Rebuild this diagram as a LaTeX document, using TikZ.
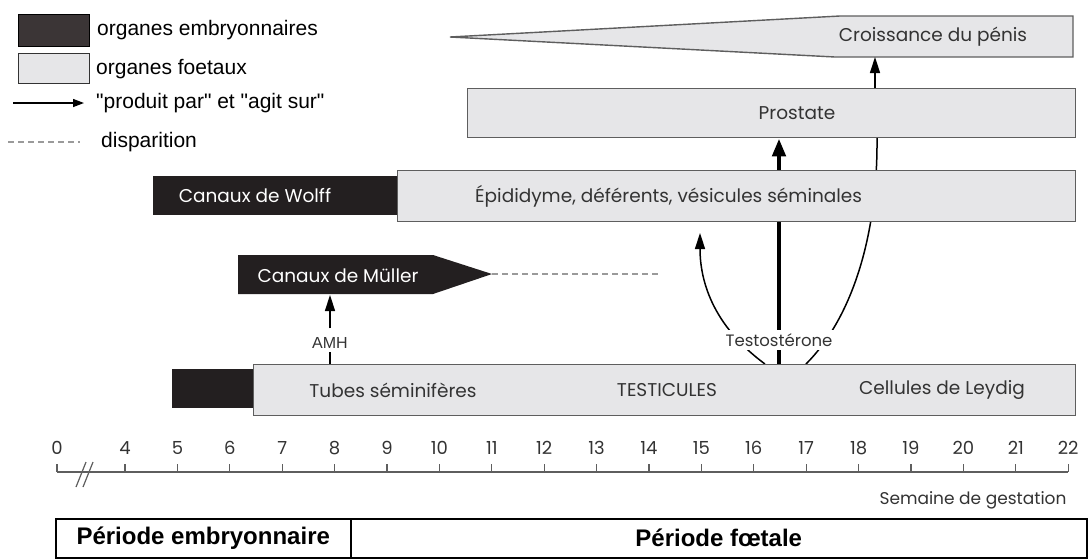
\documentclass[tikz,border=0pt]{standalone}
\usepackage{fontspec}
\setmainfont{Liberation Sans}
\newfontfamily\geo{Poppins}
\usetikzlibrary{arrows.meta,backgrounds}
\definecolor{embryo}{HTML}{231F20}
\definecolor{embryokey}{HTML}{3B3536}
\definecolor{fetal}{HTML}{E6E6E8}
\definecolor{boxline}{HTML}{5E5E5E}
\definecolor{ink}{HTML}{333333}
\definecolor{gone}{HTML}{9A9A9A}
\tikzset{
  fetalbox/.style={draw=boxline,fill=fetal,line width=1.4pt,inner sep=0pt,anchor=north west},
  embryobox/.style={fill=embryo,inner sep=0pt,anchor=north west},
  organ/.style={font=\geo\fontsize{18.5}{21}\selectfont,text=ink,inner sep=0pt},
  organw/.style={organ,text=white},
  hormone/.style={font=\geo\fontsize{16.5}{18}\selectfont,text=ink,fill=white,inner sep=3pt},
  acts/.style={-{Triangle[length=16pt,width=10pt]},line width=1.5pt},
  gonefill/.style={gone,line width=1.2pt,dash pattern=on 6pt off 4pt},
  week/.style={font=\geo\fontsize{18}{20}\selectfont,text=ink},
  keytext/.style={font=\fontsize{21}{24}\selectfont,anchor=west,inner sep=0pt},
  period/.style={font=\bfseries\fontsize{24}{26}\selectfont,draw,line width=1.5pt,anchor=north west,minimum height=39pt,inner sep=0pt}
}
\begin{document}
\begin{tikzpicture}[x=1pt,y=-1pt]
\useasboundingbox (0,0) rectangle (1090,558);
% legende
\node[embryobox,fill=embryokey,draw=black,minimum width=71,minimum height=32] (keyembryo) at (18,14) {};
\node[fetalbox,draw=black!80,minimum width=71,minimum height=30] (keyfetal) at (18,53) {};
\node[keytext] (keyembryotxt) at (97,30) {organes embryonnaires};
\node[keytext] (keyfetaltxt) at (96,69) {organes foetaux};
\coordinate (keyarrow) at (13,103);
\node[keytext] (keyactstxt) at (96,103) {\textquotedbl produit par\textquotedbl{} et \textquotedbl agit sur\textquotedbl};
\draw[-{Triangle[length=11pt,width=8pt]},line width=1.3pt,shorten >=12pt] (keyarrow) -- (keyactstxt.west);
\coordinate (keygone) at (8,142);
\node[keytext] (keygonetxt) at (101,142) {disparition};
\draw[gonefill,shorten >=21pt] (keygone) -- (keygonetxt.west);
%
% organes
\filldraw[draw=boxline,fill=fetal,line width=1.4pt] (450,37) -- (840,16) -- (1073,16) -- (1073,57) -- (835,57) -- cycle;
\node[organ] (penis) at (933,37) {Croissance du pénis};
\coordinate (penisbase) at (875,57);
\node[fetalbox,minimum width=608,minimum height=49] (prostate) at (467,88) {};
\node[organ] (prostatetxt) at (797,113) {Prostate};
\node[embryobox,minimum width=244,minimum height=39] (wolff) at (153,176) {};
\node[organw] (wolfftxt) at (255,196) {Canaux de Wolff};
\node[fetalbox,minimum width=678,minimum height=51] (epid) at (397,170) {};
\node[organ,anchor=west] (epidtxt) at (475,196) {Épididyme, déférents, vésicules séminales};
\fill[embryo] (238,255) -- (433,255) -- (492,274) -- (433,294) -- (238,294) -- cycle;
\node[organw] (mullertxt) at (338,276) {Canaux de Müller};
\coordinate (mullertip) at (492,274);
\coordinate (mullerend) at (660,274);
\coordinate (mullerbase) at (330,295);
\draw[gonefill] (mullertip) -- (mullerend);
\node[embryobox,minimum width=85,minimum height=39] (testisembryo) at (172,369) {};
\node[fetalbox,minimum width=822,minimum height=51] (testis) at (253,364) {};
\node[organ] (tubes) at (393,390) {Tubes séminifères};
\node[organ] (testistxt) at (667,390) {TESTICULES};
\node[organ] (leydig) at (942,390) {Cellules de Leydig};
%
% hormones
\node[hormone,font=\fontsize{16}{18}\selectfont] (amh) at (330,343) {AMH};
\draw[line width=1.5pt] (testis.north -| amh) -- (amh);
\draw[acts,shorten <=6pt] (amh) -- (mullerbase);
\node[hormone] (testo) at (779,340) {Testostérone};
\coordinate (leftfoot) at (765,364);
\coordinate (rightfoot) at (806,364);
\coordinate (epidtip) at (700,233);
\coordinate (prostatefoot) at (877,137);
\begin{pgfonlayer}{background}
\draw[-{Triangle[length=18pt,width=13pt]},line width=4.5pt] (testis.north -| testo) -- (prostate.south -| testo);
\draw[acts] (leftfoot) .. controls (712,325) and (700,280) .. (epidtip);
\draw[line width=1.5pt] (rightfoot) .. controls (850,320) and (878,240) .. (prostatefoot);
\end{pgfonlayer}
\draw[acts] (prostate.north -| penisbase) -- (penisbase);
%
% semaines
\draw[boxline,line width=1.2pt] (57,472) -- (1068,472);
\node[week] (w0) at (57,448) {0};
\draw[boxline,line width=1.2pt] (57,464) -- (57,472);
\foreach \w in {4,...,22}{
  \pgfmathsetmacro\wx{125+(\w-4)*52.4}
  \node[week] (w\w) at (\wx,448) {\w};
  \draw[boxline,line width=1.2pt] (\wx,464) -- (\wx,472);
}
\draw[boxline,line width=1.2pt] (76,487) -- (86,462) (83,487) -- (93,462);
\node[week,font=\geo\fontsize{17}{19}\selectfont,anchor=east] (semaine) at (1070,500) {Semaine de gestation};
%
\node[period,minimum width=295] (embryonnaire) at (55,518) {Période embryonnaire};
\node[period,minimum width=736] (foetale) at (350,518) {Période fœtale};
\end{tikzpicture}
\end{document}
